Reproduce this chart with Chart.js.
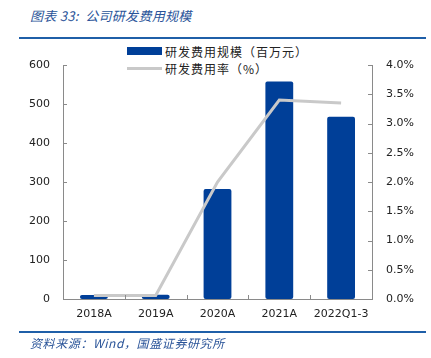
<!DOCTYPE html>
<html>
<head>
<meta charset="utf-8">
<script src="https://cdn.jsdelivr.net/npm/chart.js@4"></script>
<style>
  html, body { margin:0; padding:0; background:#fff; }
  #wrap { position:relative; width:431px; height:358px; overflow:hidden; background:#fff; }
  #chart { position:absolute; left:0; top:0; }
  .title { position:absolute; left:30px; top:6px; font-family:"Noto Sans CJK SC", sans-serif; font-style:italic; font-size:13px; color:#2A5499; white-space:pre; letter-spacing:0.3px; }
  .rule { position:absolute; left:19px; width:407px; height:2px; background:#1F5FA8; }
  .source { position:absolute; left:30px; top:334px; font-family:"Noto Sans CJK SC", sans-serif; font-style:italic; font-size:12px; color:#2A5499; white-space:nowrap; letter-spacing:0.6px; }
  .legend { position:absolute; left:127px; font-family:"Noto Sans CJK SC", sans-serif; font-size:12px; color:#222; white-space:nowrap; display:flex; align-items:center; letter-spacing:1px; }
  .sw { display:inline-block; width:35px; margin-right:3px; }
</style>
</head>
<body>
<div id="wrap">
  <div class="title">图表 33:  公司研发费用规模</div>
  <div class="rule" style="top:37px"></div>
  <div class="legend" id="lg1" style="top:42px;height:18px"><span class="sw" style="height:8px;background:#003F98"></span><span id="lt1"></span></div>
  <div class="legend" id="lg2" style="top:59px;height:18px"><span class="sw" style="height:3px;background:#C9C9C9"></span><span id="lt2"></span></div>
  <canvas id="chart" width="431" height="358"></canvas>
  <div class="rule" style="top:331px"></div>
  <div class="source">资料来源：Wind，国盛证券研究所</div>
</div>
<script>
const categories = ["2018A", "2019A", "2020A", "2021A", "2022Q1-3"];
const rdExpense = [10, 11, 282, 558, 467];          // 研发费用规模（百万元）
const rdRatio = [0.06, 0.06, 2.0, 3.40, 3.35];      // 研发费用率（%）
const leftTicks = [0, 100, 200, 300, 400, 500, 600];
const rightTicks = [0, 0.5, 1.0, 1.5, 2.0, 2.5, 3.0, 3.5, 4.0];
const seriesNames = ["研发费用规模（百万元）", "研发费用率（%）"];

document.getElementById('lt1').textContent = seriesNames[0];
document.getElementById('lt2').textContent = seriesNames[1];

const AXIS = '#8A8A8A';
const tickFont = { family: 'DejaVu Sans', size: 11 };

const innerTicks = {
  id: 'innerTicks',
  afterDraw(chart) {
    const ctx = chart.ctx;
    const a = chart.chartArea;
    ctx.save();
    ctx.strokeStyle = AXIS;
    ctx.lineWidth = 1;
    ctx.beginPath();
    const y = chart.scales.y, y1 = chart.scales.y1, x = chart.scales.x;
    y.ticks.forEach((t, i) => {
      const py = Math.round(y.getPixelForTick(i)) + 0.5;
      ctx.moveTo(a.left, py); ctx.lineTo(a.left + 4, py);
    });
    y1.ticks.forEach((t, i) => {
      const py = Math.round(y1.getPixelForTick(i)) + 0.5;
      ctx.moveTo(a.right, py); ctx.lineTo(a.right - 4, py);
    });
    const n = categories.length;
    for (let i = 1; i < n; i++) {
      const px = Math.round((x.getPixelForValue(i - 1) + x.getPixelForValue(i)) / 2) + 0.5;
      ctx.moveTo(px, a.bottom); ctx.lineTo(px, a.bottom - 4);
    }
    ctx.stroke();
    ctx.restore();
  }
};

new Chart(document.getElementById('chart'), {
  data: {
    labels: categories,
    datasets: [
      {
        type: 'line', label: seriesNames[1], data: rdRatio, yAxisID: 'y1',
        borderColor: '#C9C9C9', borderWidth: 3, pointRadius: 0, tension: 0, order: 0
      },
      {
        type: 'bar', label: seriesNames[0], data: rdExpense, yAxisID: 'y',
        backgroundColor: '#003F98', barPercentage: 0.45, categoryPercentage: 1.0,
        borderRadius: 2, borderSkipped: false, order: 1
      }
    ]
  },
  options: {
    responsive: false,
    animation: false,
    layout: { padding: { top: 65, bottom: 29, left: 0, right: 0 } },
    plugins: { legend: { display: false }, tooltip: { enabled: false } },
    scales: {
      x: {
        offset: true,
        grid: { display: false, drawTicks: false },
        border: { display: true, color: AXIS, width: 1 },
        ticks: { color: '#222', font: tickFont, padding: 9, maxRotation: 0 },
        afterFit(s) { s.height = 30; }
      },
      y: {
        position: 'left', min: 0, max: 600,
        afterBuildTicks(s) { s.ticks = leftTicks.map(v => ({ value: v })); },
        grid: { display: false, drawTicks: false },
        border: { display: true, color: AXIS, width: 1 },
        ticks: { color: '#222', font: tickFont, padding: 13 },
        afterFit(s) { s.width = 63; }
      },
      y1: {
        position: 'right', min: 0, max: 4,
        afterBuildTicks(s) { s.ticks = rightTicks.map(v => ({ value: v })); },
        grid: { display: false, drawTicks: false },
        border: { display: true, color: AXIS, width: 1 },
        ticks: { color: '#222', font: tickFont, padding: 14, callback: v => Number(v).toFixed(1) + '%' },
        afterFit(s) { s.width = 59; }
      }
    }
  },
  plugins: [innerTicks]
});
</script>
</body>
</html>
